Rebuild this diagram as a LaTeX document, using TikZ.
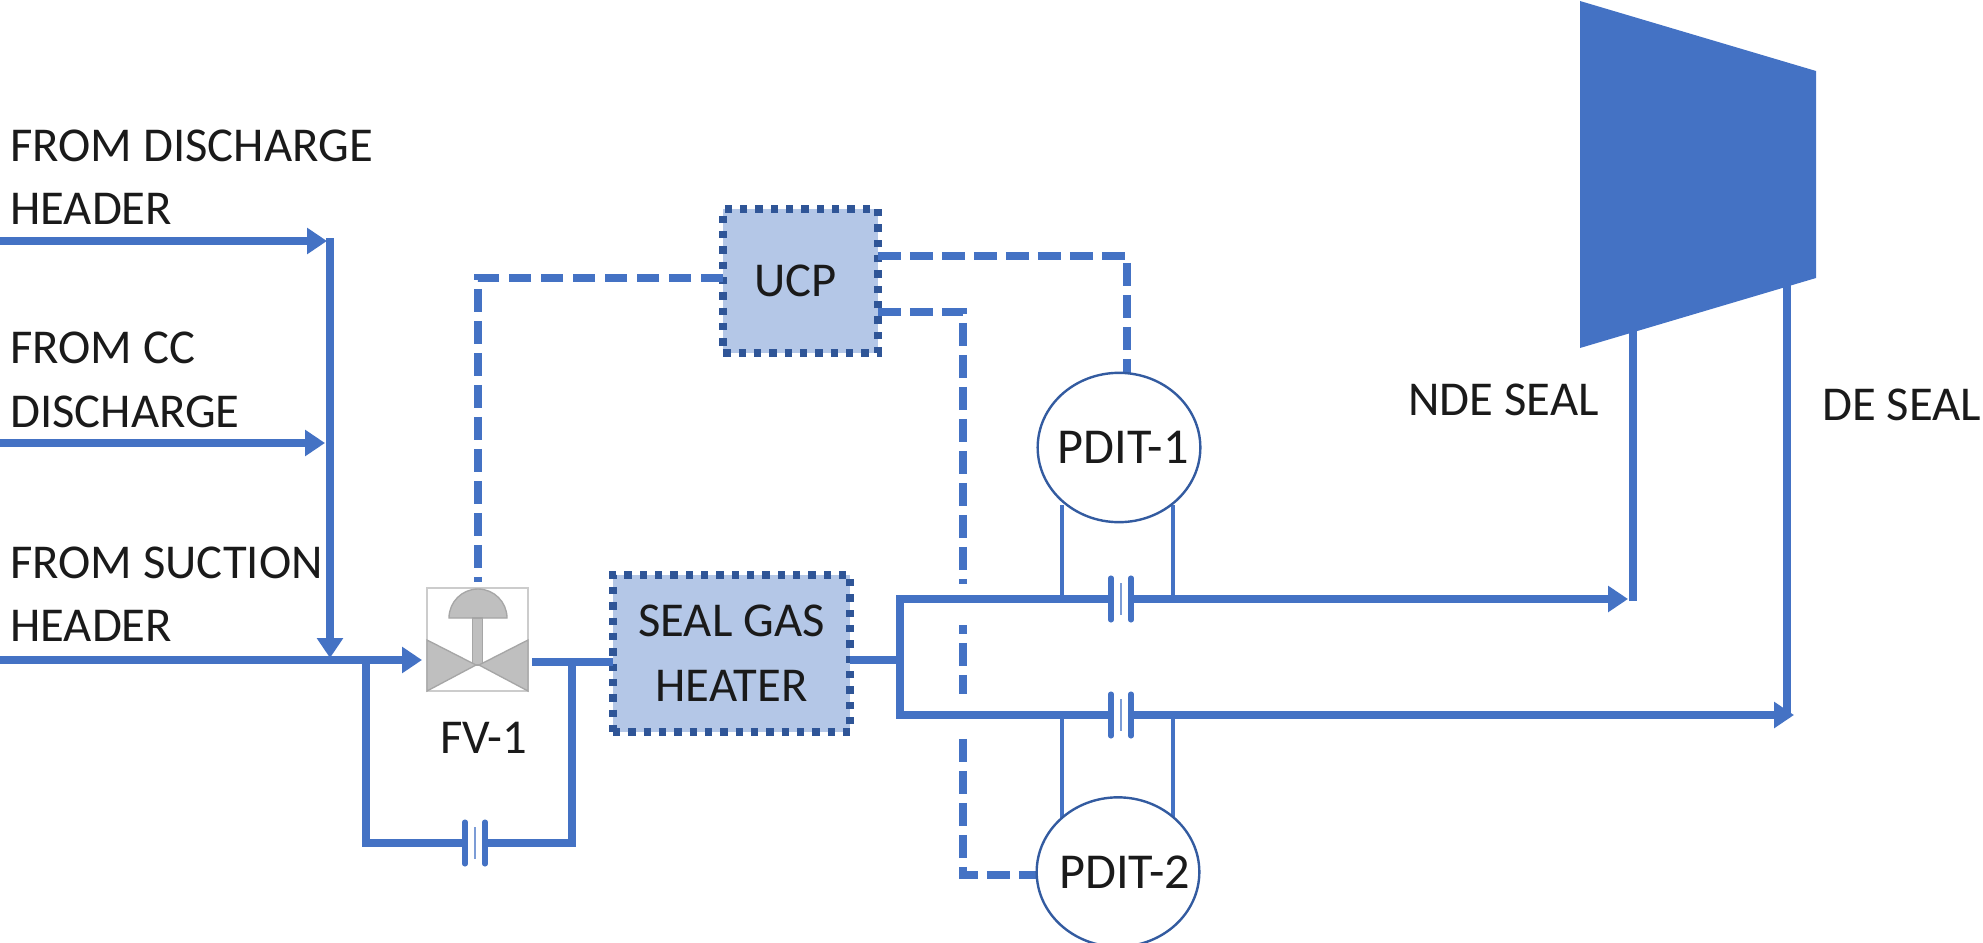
\documentclass[tikz,border=0pt]{standalone}
\usepackage{fontspec}
\setmainfont{Carlito}
\usetikzlibrary{arrows.meta,calc,shapes.geometric}
\definecolor{pipeblue}{HTML}{4472C4}
\definecolor{boxfill}{HTML}{B4C7E7}
\definecolor{boxedge}{HTML}{2F5597}
\definecolor{valvegray}{HTML}{BFBFBF}
\definecolor{valveedge}{HTML}{A6A6A6}
\definecolor{textcol}{HTML}{1A1A1A}
\newcommand{\orifice}[3]{%
  \coordinate (#1-l) at (#2-9,#3);
  \coordinate (#1-r) at (#2+11,#3);
  \draw[plate] (#2-9,#3-21) -- (#2-9,#3+21);
  \draw[plate] (#2+11,#3-21) -- (#2+11,#3+21);
  \draw[midplate] (#2+1,#3-16) -- (#2+1,#3+16);
}
\tikzset{
  pipe/.style={draw=pipeblue,line width=5.6pt,line join=miter},
  pipearrow/.style={pipe,-{Triangle[length=15pt,width=19pt]}},
  thinpipe/.style={draw=pipeblue,line width=3.4pt},
  signal/.style={draw=pipeblue,line width=5.6pt,dash pattern=on 17pt off 7pt},
  plate/.style={draw=pipeblue,line width=3.8pt,line cap=round},
  midplate/.style={draw=pipeblue!70,line width=1.4pt},
  unit/.style={rectangle,fill=boxfill,draw=boxedge,line width=5.6pt,dash pattern=on 5.5pt off 6pt,inner sep=0pt,outer sep=0pt,align=center,text=textcol,font=\fontsize{36.5}{48.5}\selectfont},
  instrument/.style={ellipse,draw=boxedge!80!pipeblue,line width=1.8pt,fill=white,inner sep=0pt,outer sep=0pt,text=textcol,font=\fontsize{37.7}{46}\selectfont},
  label/.style={text=textcol,inner sep=0pt,align=left,font=\fontsize{36.5}{47.5}\selectfont},
}
\begin{document}
\begin{tikzpicture}[x=0.75pt,y=-0.75pt]
\useasboundingbox (0,0) rectangle (1983,942);

% compressor
\fill[pipeblue] (1580,1) -- (1816,71) -- (1816,278) -- (1580,348) -- cycle;

% named points
\coordinate (in1) at (0,241);
\coordinate (in2) at (0,443);
\coordinate (in3) at (0,660);
\coordinate (hdrtip1) at (327,241);
\coordinate (hdrtip2) at (325,443);
\coordinate (hdrtop) at (330,238);
\coordinate (hdrbot) at (330,658);
\coordinate (bypassL) at (366,660);
\coordinate (bypassLb) at (366,843);
\coordinate (bypassR) at (572,662);
\coordinate (bypassRb) at (572,843);
\coordinate (split) at (900,660);
\coordinate (splitT) at (900,599);
\coordinate (splitB) at (900,715);
\coordinate (nde) at (1633,601);
\coordinate (ndeTop) at (1633,331);
\coordinate (de) at (1787,715);
\coordinate (deTop) at (1787,285);

% units
\node[unit,minimum width=178pt,minimum height=118pt] (heater) at (731.5,653.5) {SEAL GAS\\HEATER};
\node[unit,minimum width=116pt,minimum height=108pt] (ucp) at (800.5,281) {\hspace*{-8pt}UCP};

% valve
\node[rectangle,draw=black!20,line width=1.4pt,fill=white,minimum width=75.5pt,minimum height=77pt,inner sep=0pt,outer sep=0pt] (fv) at (477.5,639.5) {};
\fill[valvegray,draw=valveedge,line width=1pt] (449,618) arc[start angle=180,end angle=360,x radius=29,y radius=29] -- cycle;
\fill[valvegray,draw=valveedge,line width=1pt] (472.5,618) rectangle (482.5,665);
\fill[valvegray,draw=valveedge,line width=1pt] (427,640) -- (476,665) -- (427,691) -- cycle;
\fill[valvegray,draw=valveedge,line width=1pt] (528,640) -- (479,665) -- (528,691) -- cycle;
\node[label] (fvlabel) at (484,738) {FV-1};

% signal lines
\coordinate (sigA) at (478,278);
\coordinate (sigB) at (1127,256);
\coordinate (sigC) at (963,312);
\coordinate (sigD) at (963,875);
\draw[signal] (ucp.west |- sigA) -- (sigA) -- (478,582);
\draw[signal] (ucp.east |- sigB) -- (sigB) -- (1127,373);
\draw[signal] (ucp.east |- sigC) -- (sigC) -- (sigD) -- (1037,875);
\draw[white,line width=8pt] (963,584) -- (963,625);
\draw[white,line width=8pt] (963,694) -- (963,737);

% inlet pipes
\draw[pipearrow] (in1) -- (hdrtip1);
\draw[pipearrow] (in2) -- (hdrtip2);
\draw[pipearrow] (hdrtop) -- (hdrbot);
\draw[pipearrow] (in3) -- (422,660);

% bypass
\orifice{o1}{474}{843}
\draw[pipe] (bypassL) -- (bypassLb) -- (o1-l);
\draw[pipe] (o1-r) -- (bypassRb) -- (bypassR);
\draw[pipe] (532,662) -- (heater.west |- 532,662);

% outlet
\draw[pipe] (heater.east |- split) -- (split);
\orifice{o2}{1120}{599}
\orifice{o3}{1120}{715}
\draw[pipe] (o2-l) -- (splitT) -- (splitB) -- (o3-l);
\draw[pipe] (nde) -- (ndeTop);
\draw[pipe] (de) -- (deTop);
\draw[pipearrow] (o2-r) -- (1628,599);
\draw[pipearrow] (o3-r) -- (1794,715);

% differential pressure taps
\draw[thinpipe] (1062,599) -- (1062,505);
\draw[thinpipe] (1173,599) -- (1173,505);
\draw[thinpipe] (1062,715) -- (1062,820);
\draw[thinpipe] (1173,715) -- (1173,820);
\node[instrument,minimum width=122pt,minimum height=112pt] (pdit1) at (1119,447.5) {\makebox[0pt]{\hspace*{6pt}PDIT-1}};
\node[instrument,minimum width=122pt,minimum height=112pt] (pdit2) at (1118,872) {\makebox[0pt]{\hspace*{10pt}PDIT-2}};

% labels
\node[label,anchor=west] (l1) at (10,177) {FROM DISCHARGE\\HEADER};
\node[label,anchor=west] (l2) at (10,380) {FROM CC\\DISCHARGE};
\node[label,anchor=west] (l3) at (10,594) {FROM SUCTION\\HEADER};
\node[label,anchor=west] (l4) at (1408,400) {NDE SEAL};
\node[label,anchor=west] (l5) at (1822,405) {DE SEAL};
\end{tikzpicture}
\end{document}
